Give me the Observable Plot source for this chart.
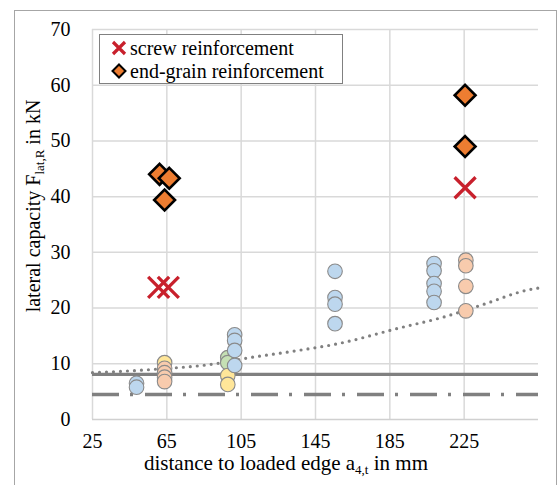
<!DOCTYPE html>
<html>
<head>
<meta charset="utf-8">
<script src="https://cdn.jsdelivr.net/npm/d3@7"></script>
<script src="https://cdn.jsdelivr.net/npm/@observablehq/plot@0.6"></script>
<style>
  html, body { margin: 0; padding: 0; background: #fff; }
  #wrap { position: relative; width: 560px; height: 485px; overflow: hidden; font-family: "Liberation Serif", Tinos, "Times New Roman", "DejaVu Serif", serif; }
  #frame { position: absolute; left: 14px; top: 10px; width: 543px; height: 490px; border: 1px solid #a6a6a6; box-sizing: border-box; }
  #chart { position: absolute; left: 0; top: 0; }
  .legend { position: absolute; left: 99px; top: 34px; width: 244px; height: 50px; border: 1.5px solid #808080; background: #fff; box-sizing: border-box; font-size: 20px; color: #000; }
  .legend .row { position: absolute; left: 10px; height: 22px; line-height: 22px; white-space: nowrap; }
  .legend svg { vertical-align: middle; margin-right: 2px; position: relative; top: -2px; }
  .xtitle { position: absolute; left: 0; width: 572px; top: 451px; text-align: center; font-size: 21px; color: #000; white-space: nowrap; }
  .ytitle { position: absolute; left: 33px; top: 206px; transform: translate(-50%, -50%) rotate(-90deg); font-size: 20px; color: #000; white-space: nowrap; }
  sub { font-size: 13px; vertical-align: -4px; line-height: 0; }
</style>
</head>
<body>
<div id="wrap">
  <div id="frame"></div>
  <div id="chart"></div>
  <div class="legend">
    <div class="row" style="top:2px"><svg width="18" height="18" viewBox="-9 -9 18 18"><path d="M-6,-6L6,6M6,-6L-6,6" stroke="#c8202c" stroke-width="3.2"/></svg>screw reinforcement</div>
    <div class="row" style="top:25px"><svg width="18" height="18" viewBox="-9 -9 18 18"><path d="M0,-6.5L6.5,0L0,6.5L-6.5,0Z" fill="#ed7d31" stroke="#000" stroke-width="2"/></svg>end-grain reinforcement</div>
  </div>
  <div class="xtitle">distance to loaded edge a<sub>4,t</sub> in mm</div>
  <div class="ytitle">lateral capacity F<sub>lat,R</sub> in kN</div>
</div>
<script>
// Axis ticks
const xTicks = [25, 65, 105, 145, 185, 225];
const yTicks = [0, 10, 20, 30, 40, 50, 60, 70];

// Test results without reinforcement, grouped by colour series
const circleX = [
  97.8, 97.8,
  63.8, 97.8, 97.8,
  63.8, 63.8, 63.8, 63.8, 225.9, 225.9, 225.9, 225.9,
  48.7, 48.7, 101.5, 101.5, 101.5, 101.5, 155.5, 155.5, 155.5, 155.5, 208.8, 208.8, 208.8, 208.8, 208.8
];
const circleY = [
  11.1, 10.2,
  10.2, 7.9, 6.3,
  9.2, 8.4, 7.6, 6.8, 28.6, 27.6, 23.9, 19.5,
  6.5, 5.8, 15.2, 14.2, 12.4, 9.7, 26.6, 21.9, 20.7, 17.2, 28.0, 26.7, 24.4, 23.0, 21.0
];
const circleGroup = [
  "green", "green",
  "yellow", "yellow", "yellow",
  "orange", "orange", "orange", "orange", "orange", "orange", "orange", "orange",
  "blue", "blue", "blue", "blue", "blue", "blue", "blue", "blue", "blue", "blue", "blue", "blue", "blue", "blue", "blue"
];
const groupFill = {green: "#c5e0b4", yellow: "#ffe699", orange: "#f8cbad", blue: "#bdd7ee"};

// Screw reinforcement
const screwX = [60.6, 65.8, 225.5];
const screwY = [23.7, 23.7, 41.6];

// End-grain reinforcement
const grainX = [61.1, 66.3, 63.8, 225.5, 225.5];
const grainY = [44.0, 43.3, 39.4, 58.2, 49.0];

// Reference levels and trend curve
const levelSolid = 8.1;
const levelDashDot = 4.5;
const trendX = [25, 58, 93, 106, 132, 157, 191, 213, 234, 260, 265];
const trendY = [8.4, 9.0, 10.1, 10.9, 12.2, 13.6, 16.5, 18.3, 20.5, 23.3, 23.6];

const circles = circleX.map((x, i) => ({x, y: circleY[i], fill: groupFill[circleGroup[i]]}));
const screws = screwX.map((x, i) => ({x, y: screwY[i]}));
const grains = grainX.map((x, i) => ({x, y: grainY[i]}));
const trend = trendX.map((x, i) => ({x, y: trendY[i]}));
const xDomain = [25, 265];

const chart = Plot.plot({
  width: 560,
  height: 485,
  marginLeft: 92,
  marginRight: 22,
  marginTop: 29,
  marginBottom: 66,
  style: {fontFamily: "'Liberation Serif', Tinos, 'Times New Roman', 'DejaVu Serif', serif", fontSize: "20px", color: "#000", background: "transparent"},
  x: {domain: xDomain},
  y: {domain: [0, 70]},
  marks: [
    Plot.ruleX(xTicks, {stroke: "#d9d9d9", strokeWidth: 1.5}),
    Plot.ruleY(yTicks.filter(d => d > 0), {stroke: "#d9d9d9", strokeWidth: 1.5}),
    Plot.ruleY([0], {stroke: "#d0d0d0", strokeWidth: 1.5}),
    Plot.axisX({ticks: xTicks, tickSize: 0, tickPadding: 14, label: null, fontSize: 20, fontFamily: "'Liberation Serif', Tinos, 'DejaVu Serif', serif"}),
    Plot.axisY({ticks: yTicks, tickSize: 0, tickPadding: 22, label: null, fontSize: 20, fontFamily: "'Liberation Serif', Tinos, 'DejaVu Serif', serif"}),
    Plot.ruleY([levelSolid], {x1: xDomain[0], x2: xDomain[1], stroke: "#808080", strokeWidth: 3.2}),
    Plot.ruleY([levelDashDot], {x1: xDomain[0], x2: xDomain[1], stroke: "#808080", strokeWidth: 3.5, strokeDasharray: "27 11 3 12"}),
    Plot.line(trend, {x: "x", y: "y", curve: "monotone-x", stroke: "#808080", strokeWidth: 3.2, strokeLinecap: "round", strokeDasharray: "0 7"}),
    Plot.dot(circles, {x: "x", y: "y", r: 7.3, fill: d => d.fill, stroke: "#8a8a8a", strokeWidth: 1.1}),
    Plot.dot(screws, {x: "x", y: "y", symbol: "times", r: 9.6, stroke: "#c8202c", strokeWidth: 3.3}),
    Plot.dot(grains, {x: "x", y: "y", symbol: "diamond2", r: 9.4, fill: "#ed7d31", stroke: "#000", strokeWidth: 2.6})
  ]
});
document.getElementById("chart").appendChild(chart);
</script>
</body>
</html>
